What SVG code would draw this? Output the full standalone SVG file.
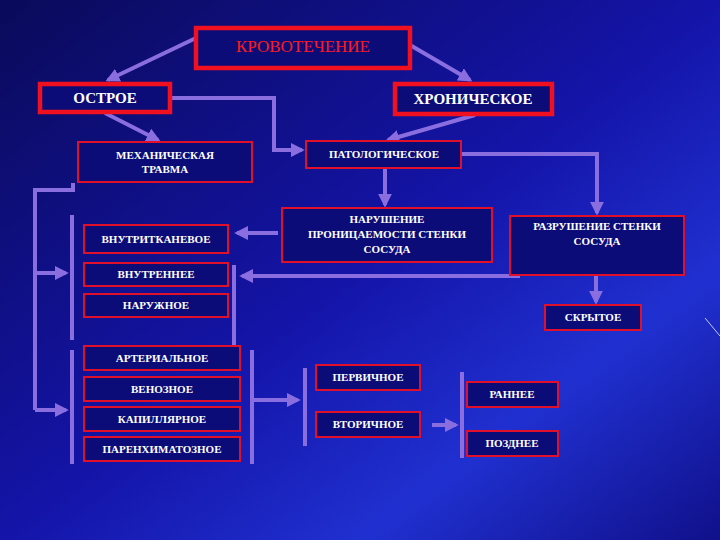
<svg xmlns="http://www.w3.org/2000/svg" width="720" height="540" viewBox="0 0 720 540">
<defs>
<linearGradient id="bg" x1="0" y1="0" x2="1" y2="1">
<stop offset="0" stop-color="#0a0a5a"/><stop offset="0.5" stop-color="#1414a8"/><stop offset="0.75" stop-color="#2030d0"/><stop offset="1" stop-color="#10108a"/>
</linearGradient>
<marker id="ah" viewBox="0 0 10 10" refX="8" refY="5" markerWidth="3.5" markerHeight="3.5" orient="auto"><path d="M0,0 L10,5 L0,10 z" fill="#8a6ee0"/></marker>
<style>
.b{fill:#0c0c78;stroke:#e0102a;stroke-width:2}
.B{fill:#0c0c78;stroke:#f01020;stroke-width:4.5}
.t{font-family:"Liberation Serif",serif;font-weight:bold;font-size:11px;fill:#ffffff;text-anchor:middle}
.T{font-family:"Liberation Serif",serif;font-weight:bold;font-size:15px;fill:#ffffff;text-anchor:middle}
.R{font-family:"Liberation Serif",serif;font-size:17px;fill:#ff1a1a;text-anchor:middle}
.c{fill:none;stroke:#8a6ee0;stroke-width:4}
.a{marker-end:url(#ah)}
</style>
</defs>
<rect width="720" height="540" fill="url(#bg)"/>
<line x1="705" y1="318" x2="720" y2="336" stroke="#c0c8ff" stroke-width="1"/>
<g id="connectors">
<path class="c a" d="M196,38 L108,80"/>
<path class="c a" d="M410,45 L470,80"/>
<path class="c a" d="M105,113 L158,140"/>
<path class="c a" d="M170,98 L274,98 L274,150 L302,150"/>
<path class="c a" d="M475,115 L388,140"/>
<path class="c a" d="M385,168 L385,205"/>
<path class="c a" d="M461,154 L597,154 L597,213"/>
<path class="c a" d="M278,233 L237,233"/>
<path class="c a" d="M520,276 L242,276"/>
<path class="c a" d="M596,276 L596,302"/>
<path class="c" d="M73,183 L73,190 L35,190 L35,410"/>
<path class="c a" d="M35,273 L66,273"/>
<path class="c a" d="M35,410 L66,410"/>
<path class="c" d="M72,215 L72,340 M234,265 L234,347 M72,350 L72,464 M252,350 L252,464 M305,368 L305,446 M462,372 L462,458"/>
<path class="c a" d="M254,400 L298,400"/>
<path class="c a" d="M432,425 L456,425"/>
</g>
<g id="n1"><rect class="B" x="196" y="28" width="214" height="40"/><text class="R" x="303" y="52">КРОВОТЕЧЕНИЕ</text></g>
<g id="n2"><rect class="B" x="40" y="84" width="130" height="28"/><text class="T" x="105" y="103">ОСТРОЕ</text></g>
<g id="n3"><rect class="B" x="395" y="84" width="157" height="30"/><text class="T" x="473" y="104">ХРОНИЧЕСКОЕ</text></g>
<g id="n4"><rect class="b" x="78" y="142" width="174" height="40"/><text class="t" x="165" y="159">МЕХАНИЧЕСКАЯ</text><text class="t" x="165" y="173">ТРАВМА</text></g>
<g id="n5"><rect class="b" x="306" y="141" width="155" height="27"/><text class="t" x="384" y="158">ПАТОЛОГИЧЕСКОЕ</text></g>
<g id="n6"><rect class="b" x="282" y="208" width="210" height="54"/><text class="t" x="387" y="223">НАРУШЕНИЕ</text><text class="t" x="387" y="238">ПРОНИЦАЕМОСТИ СТЕНКИ</text><text class="t" x="387" y="253">СОСУДА</text></g>
<g id="n7"><rect class="b" x="510" y="216" width="174" height="59"/><text class="t" x="597" y="230">РАЗРУШЕНИЕ СТЕНКИ</text><text class="t" x="597" y="245">СОСУДА</text></g>
<g id="n8"><rect class="b" x="84" y="225" width="144" height="28"/><text class="t" x="156" y="243">ВНУТРИТКАНЕВОЕ</text></g>
<g id="n9"><rect class="b" x="84" y="263" width="144" height="23"/><text class="t" x="156" y="278">ВНУТРЕННЕЕ</text></g>
<g id="n10"><rect class="b" x="84" y="294" width="144" height="23"/><text class="t" x="156" y="309">НАРУЖНОЕ</text></g>
<g id="n11"><rect class="b" x="545" y="305" width="96" height="25"/><text class="t" x="593" y="321">СКРЫТОЕ</text></g>
<g id="n12"><rect class="b" x="84" y="346" width="156" height="24"/><text class="t" x="162" y="362">АРТЕРИАЛЬНОЕ</text></g>
<g id="n13"><rect class="b" x="84" y="377" width="156" height="24"/><text class="t" x="162" y="393">ВЕНОЗНОЕ</text></g>
<g id="n14"><rect class="b" x="84" y="407" width="156" height="24"/><text class="t" x="162" y="423">КАПИЛЛЯРНОЕ</text></g>
<g id="n15"><rect class="b" x="84" y="437" width="156" height="24"/><text class="t" x="162" y="453">ПАРЕНХИМАТОЗНОЕ</text></g>
<g id="n16"><rect class="b" x="316" y="365" width="104" height="25"/><text class="t" x="368" y="381">ПЕРВИЧНОЕ</text></g>
<g id="n17"><rect class="b" x="316" y="412" width="104" height="25"/><text class="t" x="368" y="428">ВТОРИЧНОЕ</text></g>
<g id="n18"><rect class="b" x="467" y="382" width="91" height="25"/><text class="t" x="512" y="398">РАННЕЕ</text></g>
<g id="n19"><rect class="b" x="467" y="431" width="91" height="25"/><text class="t" x="512" y="447">ПОЗДНЕЕ</text></g>
</svg>
